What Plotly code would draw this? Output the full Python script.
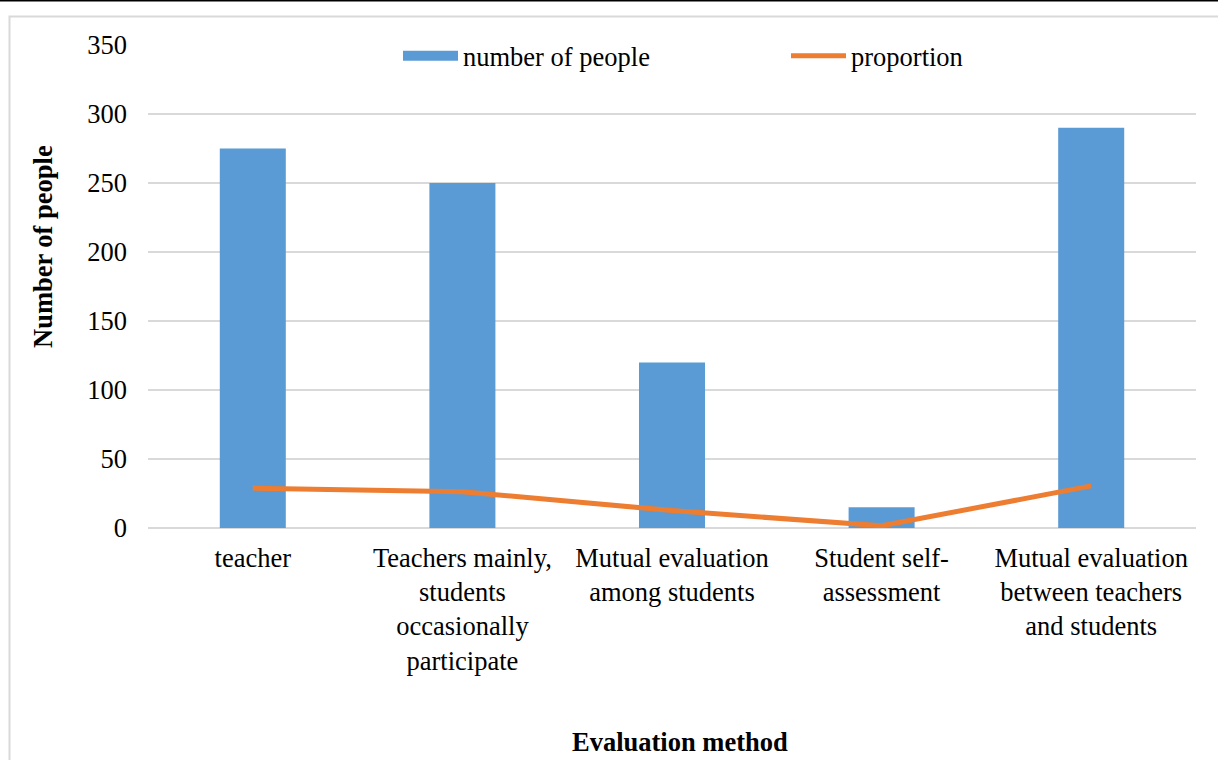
import plotly.graph_objects as go

categories = ["teacher",
              "Teachers mainly,<br>students<br>occasionally<br>participate",
              "Mutual evaluation<br>among students",
              "Student self-<br>assessment",
              "Mutual evaluation<br>between teachers<br>and students"]
people = [275, 250, 120, 15, 290]
proportion = [28.9, 26.3, 12.6, 1.6, 30.5]
y_ticks = [0, 50, 100, 150, 200, 250, 300, 350]

FONT = "Times New Roman, Liberation Serif, serif"
FS = 26.5
L, R, T, B = 148, 1196, 45, 528
W, H = 1218, 760

def px(x):
    return (x - L) / (R - L)

def py(y):
    return (B - y) / (B - T)

fig = go.Figure()
fig.add_trace(go.Bar(x=categories, y=people, name="number of people", showlegend=False,
                     marker=dict(color="#5B9BD5", line=dict(width=0)), width=0.315))
# legend-only entry to give the bar series a wide rectangular swatch
fig.add_trace(go.Scatter(x=[None], y=[None], name="number of people", mode="lines",
                         line=dict(color="#5B9BD5", width=15)))
fig.add_trace(go.Scatter(x=categories, y=proportion, name="proportion", mode="lines",
                         line=dict(color="#ED7D31", width=5)))

fig.update_layout(
    width=W, height=H,
    margin=dict(l=L, r=W - R, t=T, b=H - B, autoexpand=False),
    paper_bgcolor="white", plot_bgcolor="white",
    font=dict(family=FONT, size=FS, color="black"),
    showlegend=True,
    legend=dict(orientation="h", x=px(398), y=py(32), xanchor="left", yanchor="top",
                bgcolor="rgba(0,0,0,0)", font=dict(family=FONT, size=FS, color="black"),
                entrywidth=318, itemwidth=55),
    xaxis=dict(showgrid=False, showline=False, ticks="", tickangle=0,
               tickfont=dict(family=FONT, size=FS, color="black"), ticklabelstandoff=11),
    yaxis=dict(range=[0, 350], tickvals=y_ticks, showgrid=True, gridcolor="#d9d9d9",
               gridwidth=2, zeroline=True, zerolinecolor="#d9d9d9", zerolinewidth=2,
               showline=False, ticks="", tickfont=dict(family=FONT, size=FS, color="black"),
               ticklabelstandoff=20),
)

fig.add_annotation(text="<b>Number of people</b>", x=px(43), y=py(247), xref="paper", yref="paper",
                   textangle=-90, showarrow=False, font=dict(family=FONT, size=FS, color="black"),
                   xanchor="center", yanchor="middle")
fig.add_annotation(text="<b>Evaluation method</b>", x=px(680), y=py(742), xref="paper", yref="paper",
                   showarrow=False, font=dict(family=FONT, size=FS, color="black"),
                   xanchor="center", yanchor="middle")

fig.add_shape(type="rect", xref="paper", yref="paper", x0=px(9.5), x1=px(1240), y0=py(800), y1=py(16.5),
              line=dict(color="#d9d9d9", width=2), fillcolor="rgba(0,0,0,0)", layer="below")
fig.add_shape(type="line", xref="paper", yref="paper", x0=px(-5), x1=px(1230), y0=py(0.5), y1=py(0.5),
              line=dict(color="black", width=2))

fig.write_html("out.html", config={"displayModeBar": False},
               post_script="document.body.style.margin='0';document.body.style.padding='0';")
